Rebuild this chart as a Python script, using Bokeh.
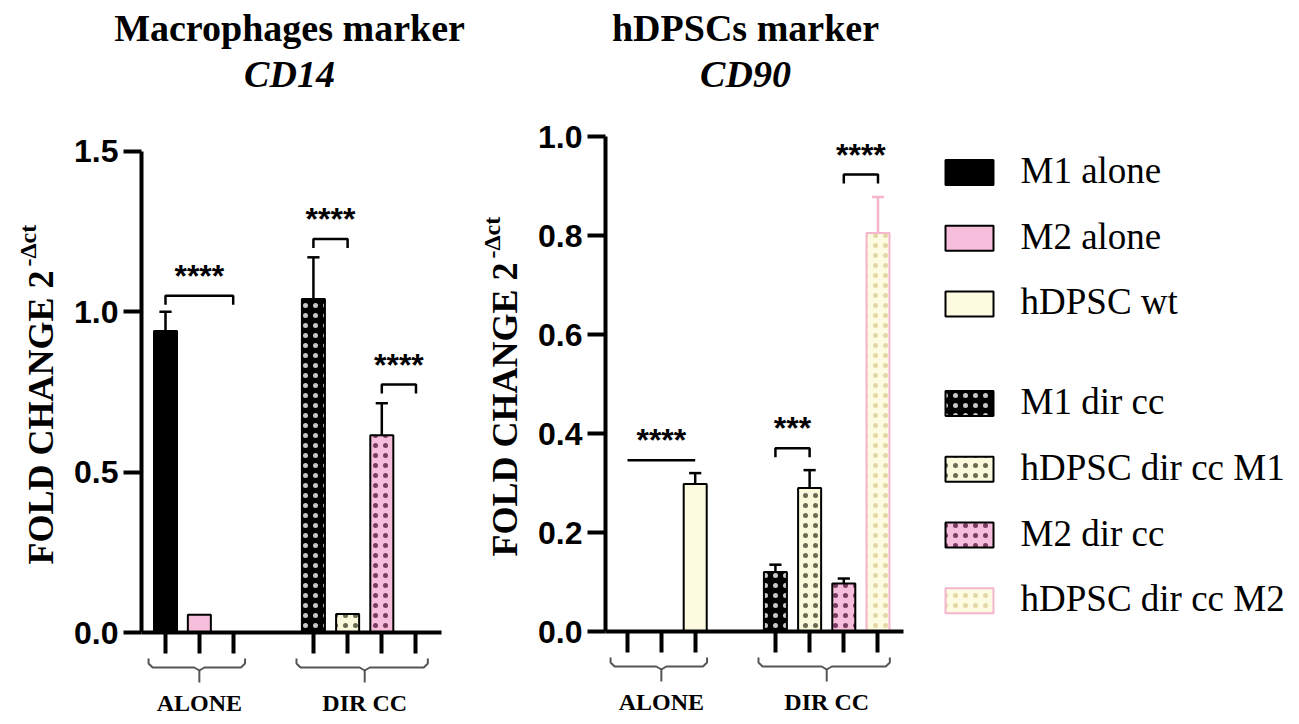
import math
from bokeh.plotting import figure
from bokeh.models import Range1d, FixedTicker, LinearAxis, CustomJSTickFormatter, NumeralTickFormatter
from bokeh.embed import file_html
from bokeh.resources import INLINE
from bokeh.core.properties import value

# ---------------- data ----------------
series = ["M1 alone", "M2 alone", "hDPSC wt", "M1 dir cc", "hDPSC dir cc M1", "M2 dir cc", "hDPSC dir cc M2"]
series_group = ["ALONE", "ALONE", "ALONE", "DIR CC", "DIR CC", "DIR CC", "DIR CC"]
groups = ["ALONE", "DIR CC"]

cd14_mean = [0.94, 0.055, 0.0, 1.04, 0.058, 0.615, 0.0]
cd14_err = [0.06, 0.0, 0.0, 0.13, 0.0, 0.10, 0.0]
cd90_mean = [0.0, 0.0, 0.298, 0.12, 0.29, 0.097, 0.805]
cd90_err = [0.0, 0.0, 0.022, 0.015, 0.036, 0.010, 0.073]

cd14_ticks = [0.0, 0.5, 1.0, 1.5]
cd90_ticks = [0.0, 0.2, 0.4, 0.6, 0.8, 1.0]

# significance: (series a, series b, stars, bracket height, end drops)
cd14_sig = [(0, 2, "****", 1.05, True), (3, 4, "****", 1.227, True), (5, 6, "****", 0.773, True)]
cd90_sig = [(0, 2, "****", 0.346, False), (3, 4, "***", 0.370, True), (5, 6, "****", 0.923, True)]

cd14_title = ["Macrophages marker", "CD14"]
cd90_title = ["hDPSCs marker", "CD90"]
y_title = "FOLD CHANGE 2"
y_title_sup = "-\u0394ct"

# ---------------- styles ----------------
fill_colors = ["#000000", "#F6BEDB", "#FDFBDF", "#000000", "#FBF9DB", "#F6BEDB", "#FEFBE3"]
line_colors = ["#000000"] * 6 + ["#F5B5CD"]
hatch_patterns = [None, None, None, ".", ".", ".", "."]
hatch_colors = ["#000000", "#000000", "#000000", "#C8C8C8", "#6A6A52", "#7B3C62", "#E3D9A6"]
err_colors = ["#000000"] * 6 + ["#F5B5CD"]

SERIF = value("Liberation Serif")
SANS = value("Liberation Sans")

# ---------------- layout (reference pixel geometry) ----------------
W, H = 1297, 722
PAGE = 0
XPU = 33.85          # px per slot unit
SLOT0 = 165          # px of first slot of left chart


def fx(px):
    return (px - SLOT0) / XPU


def slot_positions():
    pos, d = [], 0
    for i, g in enumerate(series_group):
        if g == "ALONE":
            pos.append(float(i))
        else:
            pos.append(4.37 + 1.01 * d)
            d += 1
    return pos


slots = slot_positions()
BAR_W = 0.68

L = dict(off=0.0, y0=632, ppu=320.67, rn="default", means=cd14_mean, errs=cd14_err,
         sig=cd14_sig, ticks=cd14_ticks, title=cd14_title, title_px=289, axis_px=141,
         ylab_px=40, ylab_top=270)
R = dict(off=fx(627), y0=631, ppu=495.0, rn="cd90", means=cd90_mean, errs=cd90_err,
         sig=cd90_sig, ticks=cd90_ticks, title=cd90_title, title_px=745, axis_px=605,
         ylab_px=504, ylab_top=262)


def yr(c, px):
    return (c["y0"] - px) / c["ppu"]


p = figure(width=W, height=H,
           x_range=Range1d(fx(PAGE), fx(PAGE + W)),
           y_range=Range1d(yr(L, PAGE + H), yr(L, PAGE)),
           output_backend="svg", toolbar_location=None,
           x_axis_location=None, y_axis_location=None,
           min_border=0, outline_line_color=None)
p.extra_y_ranges = {"cd90": Range1d(yr(R, PAGE + H), yr(R, PAGE))}
p.grid.visible = False
p.background_fill_color = "white"
p.border_fill_color = "white"

HATCH_SCALE = 10
HATCH_WEIGHT = 3.0


def draw_chart(c):
    rn = c["rn"]
    off = c["off"]
    xs = [off + s for s in slots]
    ax_left = fx(c["axis_px"])
    ax_right = off + 8.14

    # bars
    for i, name in enumerate(series):
        kw = dict(x=[xs[i]], top=[c["means"][i]], bottom=0, width=BAR_W,
                  fill_color=fill_colors[i], line_color=line_colors[i], line_width=2,
                  y_range_name=rn)
        if hatch_patterns[i]:
            kw.update(hatch_pattern=hatch_patterns[i], hatch_color=hatch_colors[i],
                      hatch_scale=HATCH_SCALE, hatch_weight=HATCH_WEIGHT)
        p.vbar(**kw)

    # error bars (upper only)
    for i in range(len(series)):
        e = c["errs"][i]
        if e > 0:
            t = c["means"][i]
            p.segment(x0=[xs[i]], y0=[t], x1=[xs[i]], y1=[t + e], line_color=err_colors[i],
                      line_width=2.5, y_range_name=rn)
            p.segment(x0=[xs[i] - 0.18], y0=[t + e], x1=[xs[i] + 0.18], y1=[t + e],
                      line_color=err_colors[i], line_width=2.5, y_range_name=rn)

    # axes
    yax = LinearAxis(y_range_name=rn, fixed_location=ax_left, bounds=(0, c["ticks"][-1]),
                     ticker=FixedTicker(ticks=c["ticks"]),
                     formatter=NumeralTickFormatter(format="0.0"))
    yax.axis_line_width = 4
    yax.major_tick_line_width = 4
    yax.major_tick_out = 18
    yax.major_tick_in = 0
    yax.minor_tick_out = 0
    yax.minor_tick_in = 0
    yax.major_label_standoff = 5
    yax.major_label_text_font = "Liberation Sans"
    yax.major_label_text_font_style = "bold"
    yax.major_label_text_font_size = "32px"
    yax.major_label_text_color = "black"
    p.add_layout(yax, "left")

    xax = LinearAxis(y_range_name=rn, fixed_location=0, bounds=(ax_left, ax_right),
                     ticker=FixedTicker(ticks=xs),
                     formatter=CustomJSTickFormatter(code="return ''"))
    xax.axis_line_width = 4
    xax.major_tick_line_width = 4
    xax.major_tick_out = 21
    xax.major_tick_in = 0
    xax.minor_tick_out = 0
    xax.minor_tick_in = 0
    xax.major_label_text_font_size = "1px"
    p.add_layout(xax, "below")

    ppu = c["ppu"]

    # group brackets + labels
    for g in groups:
        idx = [i for i, sg in enumerate(series_group) if sg == g]
        xl = xs[idx[0]] - 0.5
        xr = xs[idx[-1]] + 0.35
        xc = sum(xs[i] for i in idx) / len(idx)
        top, mid, bot = -26 / ppu, -35 / ppu, -50 / ppu
        p.line(x=[xl, xl, xl + 0.12, xc - 0.15, xc, xc + 0.15, xr - 0.12, xr, xr],
               y=[top, -31 / ppu, mid, mid, -38 / ppu, mid, mid, -31 / ppu, top],
               line_color="#555555", line_width=2, y_range_name=rn)
        p.segment(x0=[xc], y0=[-38 / ppu], x1=[xc], y1=[bot], line_color="#555555",
                  line_width=2, y_range_name=rn)
        p.text(x=[xc], y=[-70 / ppu], text=[g], text_font=SERIF, text_font_style="bold",
               text_font_size="24px", text_align="center", text_baseline="middle",
               text_color="black", y_range_name=rn)

    # significance brackets
    for a, b, stars, yb, drops in c["sig"]:
        xa, xb = xs[a], xs[b]
        if drops:
            d = 9 / ppu
            p.line(x=[xa, xa, xb, xb], y=[yb - d, yb, yb, yb - d], line_color="black",
                   line_width=2.5, y_range_name=rn)
        else:
            p.line(x=[xa, xb], y=[yb, yb], line_color="black", line_width=2.5,
                   y_range_name=rn)
        p.text(x=[(xa + xb) / 2], y=[yb], text=[stars], text_font=SANS,
               text_font_style="bold", text_font_size="32px", text_align="center",
               text_baseline="middle", y_offset=-20, text_color="black",
               y_range_name=rn)

    # titles
    tx = fx(c["title_px"])
    p.text(x=[tx], y=[yr(c, 27)], text=[c["title"][0]], text_font=SERIF,
           text_font_style="bold", text_font_size="38px", text_align="center",
           text_baseline="middle", text_color="black", y_range_name=rn)
    p.text(x=[tx], y=[yr(c, 73)], text=[c["title"][1]], text_font=SERIF,
           text_font_style="bold italic", text_font_size="38px", text_align="center",
           text_baseline="middle", text_color="black", y_range_name=rn)

    # y axis title
    p.text(x=[fx(c["ylab_px"])], y=[yr(c, c["ylab_top"])], text=[y_title], angle=math.pi / 2,
           text_font=SERIF, text_font_style="bold", text_font_size="36px",
           text_align="right", text_baseline="middle", text_color="black",
           y_range_name=rn)
    p.text(x=[fx(c["ylab_px"] - 13)], y=[yr(c, c["ylab_top"] - 4)], text=[y_title_sup],
           angle=math.pi / 2, text_font=SERIF, text_font_style="bold",
           text_font_size="24px", text_align="left", text_baseline="middle",
           text_color="black", y_range_name=rn)


draw_chart(L)
draw_chart(R)

# ---------------- legend ----------------
for i, name in enumerate(series):
    row_px = 172 + 65.7 * i + (34 if i >= 3 else 0)
    kw = dict(x=[fx(969)], y=[yr(L, row_px)], width=48, height=25, width_units="screen",
              height_units="screen", fill_color=fill_colors[i], line_color=line_colors[i],
              line_width=2)
    if hatch_patterns[i]:
        kw.update(hatch_pattern=hatch_patterns[i], hatch_color=hatch_colors[i],
                  hatch_scale=HATCH_SCALE, hatch_weight=HATCH_WEIGHT)
    p.rect(**kw)
    p.text(x=[fx(1020)], y=[yr(L, row_px - 2)], text=[name], text_font=SERIF,
           text_font_size="37px", text_align="left", text_baseline="middle",
           text_color="black")

open("out.html", "w").write(file_html(p, INLINE))
